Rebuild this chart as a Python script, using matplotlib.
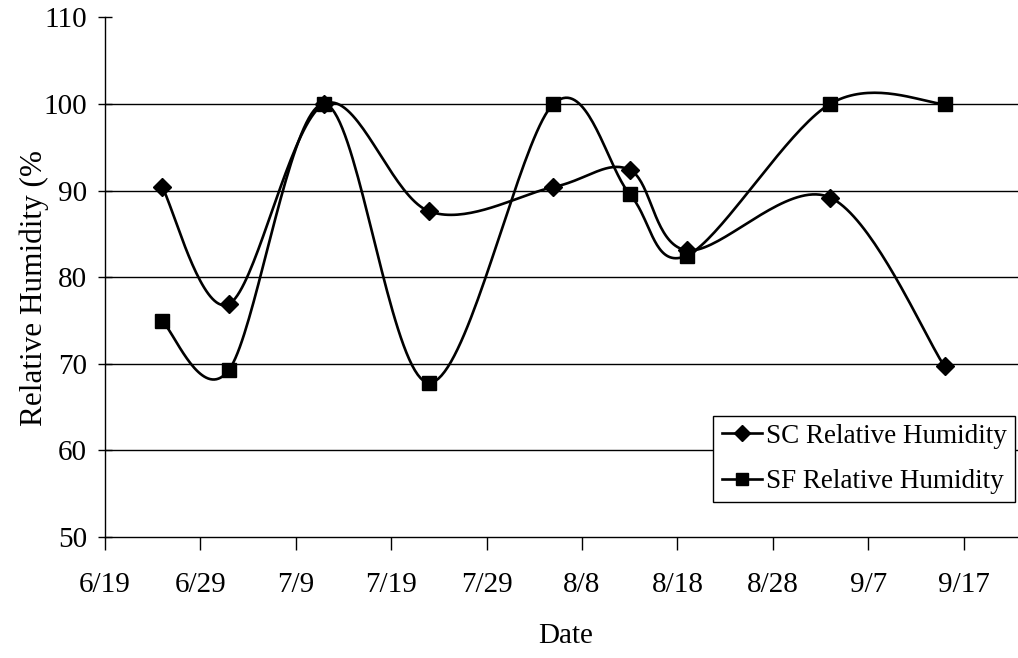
import numpy as np
import matplotlib
matplotlib.use("Agg")
from matplotlib import pyplot as plt
import matplotlib.dates as mdates
from datetime import datetime

# data
dates = ["6/25", "7/2", "7/12", "7/23", "8/5", "8/13", "8/19", "9/3", "9/15"]
sc_rh = [90.4, 76.9, 100.0, 87.6, 90.4, 92.4, 83.1, 89.2, 69.7]
sf_rh = [74.9, 69.3, 100.0, 67.8, 100.0, 89.6, 82.5, 100.0, 100.0]
tick_labels = ["6/19", "6/29", "7/9", "7/19", "7/29", "8/8", "8/18", "8/28", "9/7", "9/17"]

year = 2003


def to_num(s):
    m, d = s.split("/")
    return mdates.date2num(datetime(year, int(m), int(d)))


def smooth(xs, ys, n=40):
    # Excel-like smoothed line: cubic bezier with catmull-rom tangents
    p = np.column_stack([xs, ys])
    out = [p[0]]
    for i in range(len(p) - 1):
        p0 = p[i - 1] if i > 0 else p[i]
        p3 = p[i + 2] if i + 2 < len(p) else p[i + 1]
        c1 = p[i] + (p[i + 1] - p0) / 6.0
        c2 = p[i + 1] - (p3 - p[i]) / 6.0
        t = np.linspace(0, 1, n)[1:, None]
        seg = ((1 - t) ** 3) * p[i] + 3 * ((1 - t) ** 2) * t * c1 \
            + 3 * (1 - t) * t ** 2 * c2 + t ** 3 * p[i + 1]
        out.extend(seg)
    out = np.array(out)
    return out[:, 0], out[:, 1]


x = np.array([to_num(d) for d in dates])
ticks = [to_num(t) for t in tick_labels]

plt.rcParams["font.family"] = ["Liberation Serif", "DejaVu Serif"]

fig = plt.figure(figsize=(10.18, 6.58), dpi=100)
ax = fig.add_axes([0.1031, 0.1839, 0.8969, 0.7897])

sx, sy = smooth(x, np.array(sc_rh))
ax.plot(sx, sy, color="black", lw=1.9, zorder=3)
ax.plot(x, sc_rh, ls="none", marker="D", ms=9, color="black", zorder=4)
fx, fy = smooth(x, np.array(sf_rh))
ax.plot(fx, fy, color="black", lw=1.9, zorder=3)
ax.plot(x, sf_rh, ls="none", marker="s", ms=9.5, color="black", zorder=4)

# legend handles
ax.plot([], [], color="black", lw=1.9, marker="D", ms=8, label="SC Relative Humidity")
ax.plot([], [], color="black", lw=1.9, marker="s", ms=8, label="SF Relative Humidity")

ax.set_xlim(ticks[0], ticks[0] + 95.7)
ax.set_ylim(50, 110)
ax.set_xticks(ticks)
ax.set_xticklabels(tick_labels)
ax.set_yticks(range(50, 111, 10))

for yv in range(60, 101, 10):
    ax.axhline(yv, color="black", lw=1.0, zorder=1)

for s in ["top", "right"]:
    ax.spines[s].set_visible(False)
ax.spines["left"].set_linewidth(1.0)
ax.spines["bottom"].set_linewidth(1.0)

ax.tick_params(axis="y", direction="inout", length=10, width=1.0, labelsize=21, pad=8)
ax.tick_params(axis="x", direction="out", length=9, width=1.0, labelsize=21, pad=16)

fig.text(0.556, 0.014, "Date", fontsize=21, ha="center", va="bottom")
fig.text(0.034, 0.562, "Relative Humidity (%", fontsize=22.5,
         rotation=90, ha="center", va="center")

leg = ax.legend(loc="lower right", bbox_to_anchor=(0.997, 0.067), borderaxespad=0,
                frameon=True, fancybox=False, fontsize=19.5, handlelength=1.5,
                handletextpad=0.15, labelspacing=0.75, borderpad=0.3)
leg.get_frame().set_edgecolor("black")
leg.get_frame().set_linewidth(1.0)
leg.get_frame().set_alpha(1)

fig.savefig("out.png", dpi=100)
